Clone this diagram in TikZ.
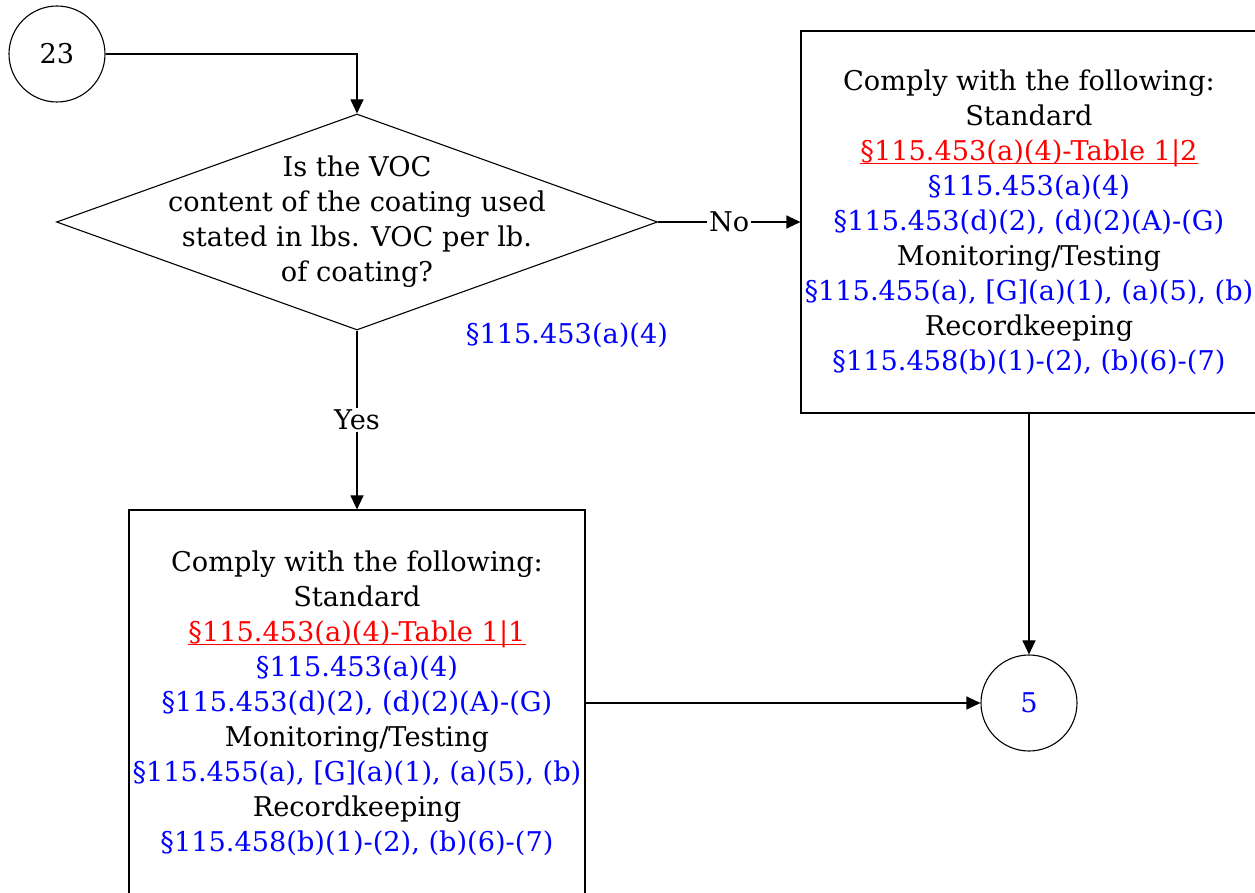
\documentclass[tikz,border=0pt]{standalone}
\usepackage{fontspec}
\setmainfont{DejaVu Serif}
\usetikzlibrary{arrows.meta}
\usetikzlibrary{shapes.geometric}
\usetikzlibrary{positioning}

\newcommand{\tableref}[1]{\leavevmode\setbox0\hbox{#1}\rlap{\rule[-2pt]{\wd0}{0.5pt}}\box0}

\begin{document}
\begin{tikzpicture}[x=0.5pt, y=-0.5pt, line width=0.55pt,
            every node/.style={font=\fontsize{13.6}{17.5}\selectfont},
            conn/.style={draw, circle, minimum size=48pt, inner sep=0pt},
            decision/.style={draw, diamond, minimum width=300.5pt, minimum height=108pt, inner sep=0pt},
            comply/.style={draw, rectangle, minimum width=228pt, minimum height=191pt, inner sep=0pt, align=center},
            flow/.style={-{Triangle[length=7pt,width=6.5pt]}},
            lbl/.style={fill=white, inner sep=1pt}]
            \useasboundingbox (0,0) rectangle (1255,893);
            \clip (0,0) rectangle (1255,893);

            \node[conn] (c23) at (57,54) {23};
            \node[decision] (q) at (357,222) {};
            \node[align=center] (qtext) at (q) {Is the VOC\\content of the coating used\\stated in lbs. VOC per lb.\\of coating?};
            \node[comply] (rbox) at (1029,222) {Comply with the following:\\Standard\\
                \textcolor{red}{\tableref{§115.453(a)(4)-Table 1|2}}\\
                \textcolor{blue}{§115.453(a)(4)}\\
                \textcolor{blue}{§115.453(d)(2), (d)(2)(A)-(G)}\\
                Monitoring/Testing\\
                \textcolor{blue}{§115.455(a), [G](a)(1), (a)(5), (b)}\\
                Recordkeeping\\
                \textcolor{blue}{§115.458(b)(1)-(2), (b)(6)-(7)}};
            \node[comply, minimum height=193pt] (lbox) at (357,703) {Comply with the following:\\Standard\\
                \textcolor{red}{\tableref{§115.453(a)(4)-Table 1|1}}\\
                \textcolor{blue}{§115.453(a)(4)}\\
                \textcolor{blue}{§115.453(d)(2), (d)(2)(A)-(G)}\\
                Monitoring/Testing\\
                \textcolor{blue}{§115.455(a), [G](a)(1), (a)(5), (b)}\\
                Recordkeeping\\
                \textcolor{blue}{§115.458(b)(1)-(2), (b)(6)-(7)}};
            \node[conn, text=blue] (c5) at (1029,703) {5};
            \node[text=blue] (qref) at (567,335) {§115.453(a)(4)};

            \draw[flow] (c23) -| (q);
            \draw[flow] (q) -- node[lbl] {No} (rbox);
            \draw[flow] (q) -- node[lbl] {Yes} (lbox);
            \draw[flow] (rbox) -- (c5);
            \draw[flow] (lbox) -- (c5);
        \end{tikzpicture}
\end{document}
